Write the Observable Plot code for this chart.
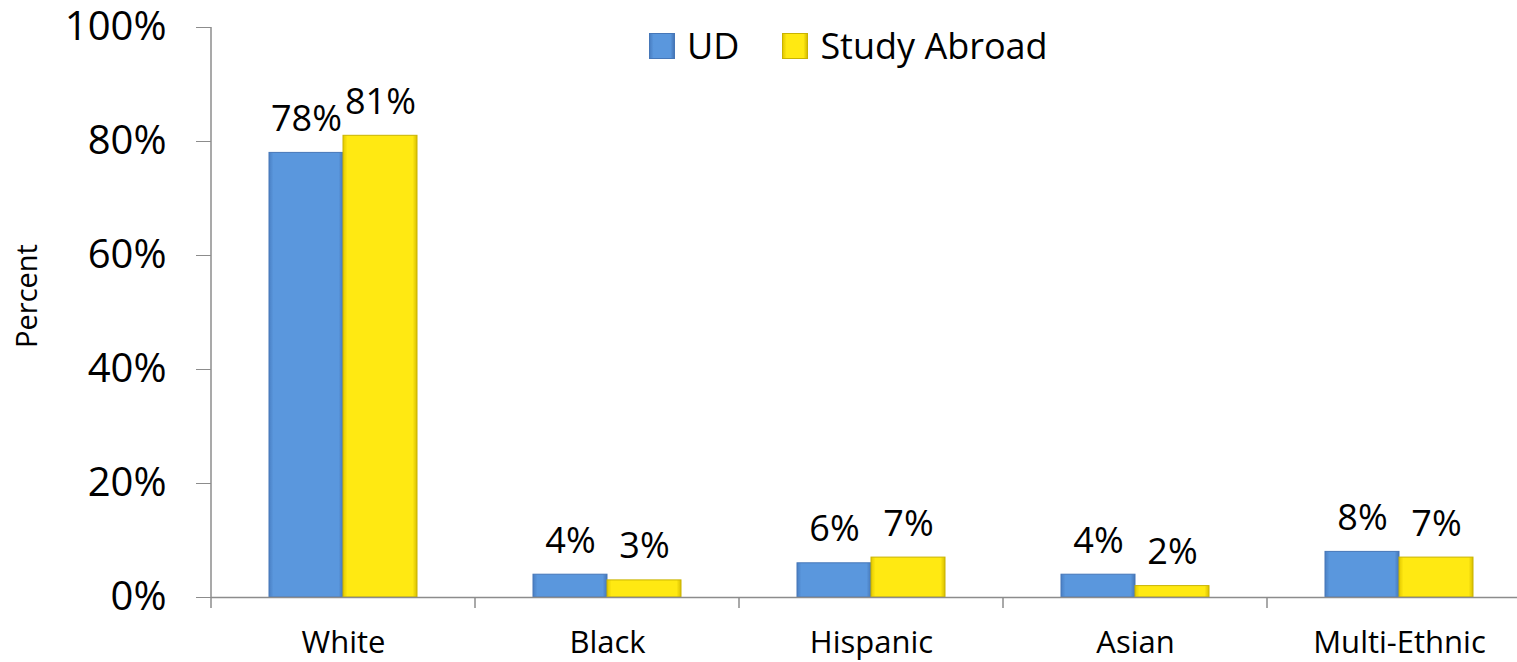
<!DOCTYPE html>
<html>
<head>
<meta charset="utf-8">
<script src="https://cdn.jsdelivr.net/npm/d3@7"></script>
<script src="https://cdn.jsdelivr.net/npm/@observablehq/plot@0.6"></script>
<style>
  html, body { margin: 0; padding: 0; background: white; overflow: hidden; }
  #wrap { position: relative; width: 1517px; height: 662px; font-family: "Open Sans", sans-serif; }
  #legend { position: absolute; left: 649px; top: 27px; display: flex; align-items: center; font-size: 36px; color: #000; }
  .sw { width: 26px; height: 26px; box-sizing: border-box; margin-right: 12px; }
  .item { display: flex; align-items: center; margin-right: 43px; line-height: 38px; }
  #ylabel { position: absolute; left: 25px; top: 296px; transform: translate(-50%, -50%) rotate(-90deg); font-size: 29px; white-space: nowrap; }
</style>
</head>
<body>
<div id="wrap"></div>
<script>
const categories = ["White", "Black", "Hispanic", "Asian", "Multi-Ethnic"];
const series = ["UD", "Study Abroad"];
const udValues = [78, 4, 6, 4, 8];
const studyAbroadValues = [81, 3, 7, 2, 7];
const yTicks = [0, 20, 40, 60, 80, 100];
const yLabel = "Percent";

const data = [];
categories.forEach((c, i) => {
  data.push({category: c, series: series[0], value: udValues[i]});
  data.push({category: c, series: series[1], value: studyAbroadValues[i]});
});

const axisGrey = "#8c8c8c";

const plot = Plot.plot({
  width: 1517,
  height: 662,
  marginLeft: 210,
  marginRight: -15,
  marginTop: 27,
  marginBottom: 65,
  style: {fontFamily: "'Open Sans', sans-serif", color: "#000", background: "white", overflow: "visible"},
  fx: {domain: categories, padding: 0, label: null},
  x: {domain: series, paddingInner: 0, paddingOuter: 0.763, axis: null},
  y: {domain: [0, 100], axis: null},
  color: {domain: series, range: ["url(#gradUD)", "url(#gradSA)"]},
  marks: [
    Plot.axisY({ticks: yTicks, tickSize: 15, tickPadding: 30, tickFormat: d => d + "%", fontSize: 40, label: null, stroke: axisGrey, fill: "#000"}),
    Plot.axisFx({anchor: "bottom", tickSize: 0, tickPadding: 33, fontSize: 31, label: null, fill: "#000"}),
    Plot.barY(data, {fx: "category", x: "series", y: "value", fill: "series",
      stroke: d => d.series === series[0] ? "#4677b8" : "#c9b300", strokeWidth: 1}),
    Plot.ruleY([0], {stroke: axisGrey, strokeWidth: 1.5}),
    Plot.text(data, {fx: "category", x: "series", y: "value", text: d => d.value + "%",
      dy: -22, lineAnchor: "bottom", fontSize: 36, fill: "#000"})
  ]
});

// gradients
const svg = d3.select(plot);
const defs = svg.insert("defs", ":first-child");
function grad(id, stops) {
  const g = defs.append("linearGradient").attr("id", id).attr("x1", 0).attr("x2", 1).attr("y1", 0).attr("y2", 0);
  stops.forEach(([o, c]) => g.append("stop").attr("offset", o).attr("stop-color", c));
}
grad("gradUD", [[0, "#4a80c4"], [0.06, "#5a97dd"], [0.94, "#5a97dd"], [1, "#4677b8"]]);
grad("gradSA", [[0, "#e3c900"], [0.06, "#ffe912"], [0.94, "#ffe912"], [1, "#d9bf00"]]);

// axis line and category boundary ticks, from the plot's scales
const fx = plot.scale("fx");
const y = plot.scale("y");
const y0 = y.apply(0), y100 = y.apply(100);
const bounds = categories.map(c => fx.apply(c));
bounds.push(bounds[bounds.length - 1] + fx.step);
const g = svg.append("g").attr("stroke", axisGrey).attr("stroke-width", 1.5);
g.append("line").attr("x1", bounds[0]).attr("x2", bounds[0]).attr("y1", y100).attr("y2", y0);
bounds.forEach(b => g.append("line").attr("x1", b).attr("x2", b).attr("y1", y0).attr("y2", y0 + 11));

const wrap = document.getElementById("wrap");
wrap.appendChild(plot);

const legend = document.createElement("div");
legend.id = "legend";
const swFills = ["linear-gradient(to right, #4a80c4, #5a97dd 15%, #5a97dd 85%, #4677b8)", "linear-gradient(to right, #e3c900, #ffe912 15%, #ffe912 85%, #d9bf00)"];
const swStrokes = ["#4677b8", "#c9b300"];
series.forEach((s, i) => {
  const item = document.createElement("div");
  item.className = "item";
  const sw = document.createElement("div");
  sw.className = "sw";
  sw.style.background = swFills[i];
  sw.style.border = "1px solid " + swStrokes[i];
  const t = document.createElement("span");
  t.textContent = s;
  item.appendChild(sw);
  item.appendChild(t);
  legend.appendChild(item);
});
wrap.appendChild(legend);

const yl = document.createElement("div");
yl.id = "ylabel";
yl.textContent = yLabel;
wrap.appendChild(yl);
</script>
</body>
</html>
